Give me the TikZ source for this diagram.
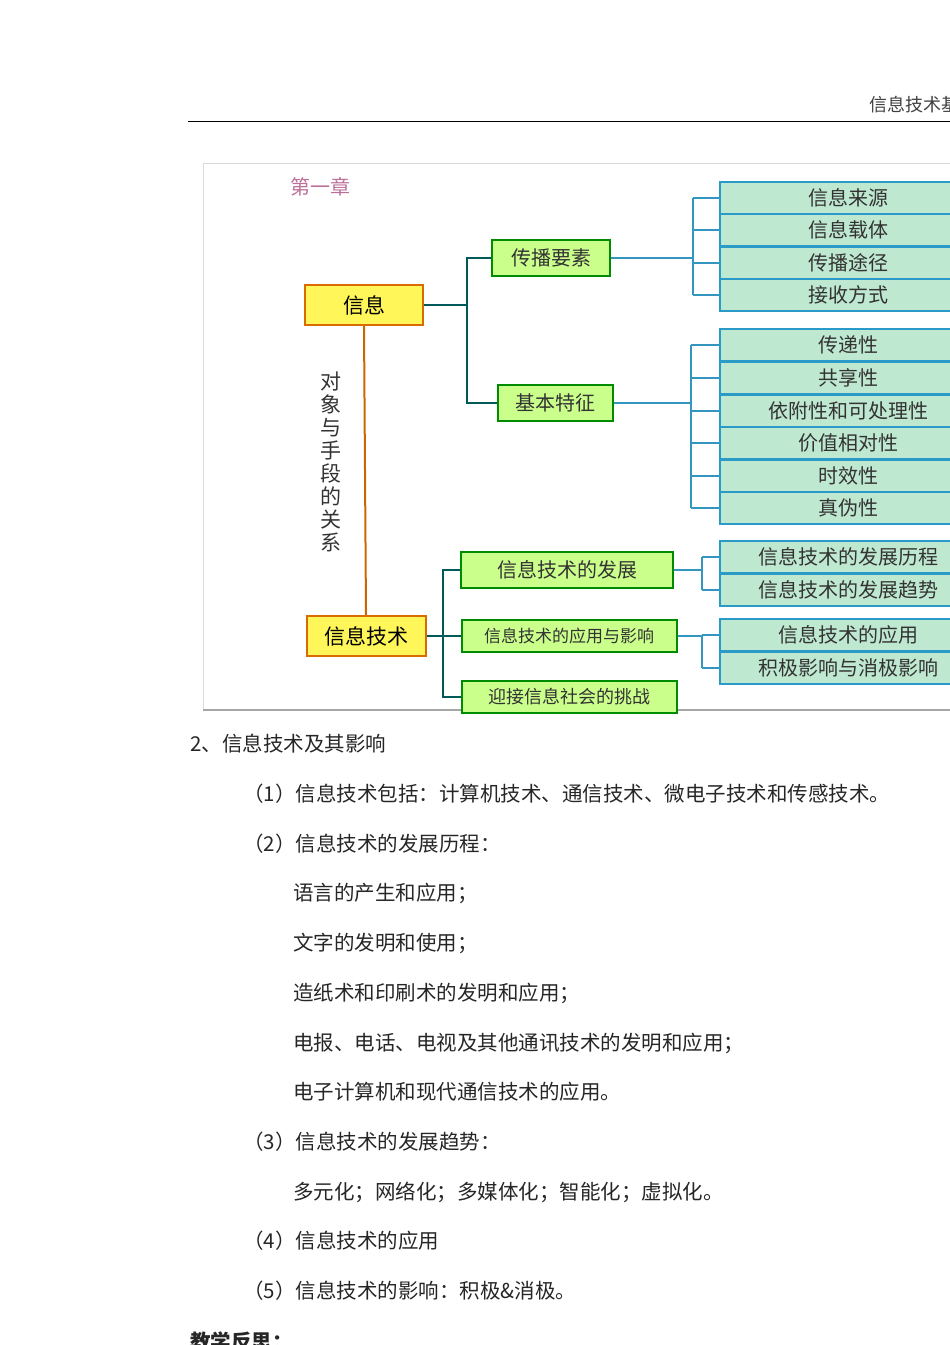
\documentclass[tikz,border=0pt]{standalone}
\usepackage{fontspec}
\setmainfont{Noto Sans CJK SC}
\newfontfamily\cjkb[BoldFont=* Bold]{Noto Sans CJK SC}
\begin{document}
\begin{tikzpicture}[x=1pt,y=-1pt,
  ybox/.style={draw=orange!85!black,line width=2pt,fill=yellow!65,minimum width=#1,minimum height=40,inner sep=0,font=\fontsize{21}{21}\selectfont},
  gbox/.style={draw=green!55!black,line width=2pt,fill=green!45!yellow!45,minimum height=36,inner sep=0,font=\fontsize{20}{20}\selectfont,text=black!80},
  cbox/.style={draw=cyan!80!black,line width=1.6pt,fill=cyan!25!green!25,minimum width=240,minimum height=32.5,inner sep=0},
  clab/.style={font=\fontsize{20}{20}\selectfont,text=black!80},
  cl/.style={draw=cyan!75!black,line width=2pt},
  gl/.style={draw=teal!70!black,line width=2pt},
  body/.style={anchor=west,font=\fontsize{20.5}{21}\selectfont,text=black!85,inner sep=0}]
\useasboundingbox (0,0) rectangle (950,1345);
\clip (0,0) rectangle (950,1345);
% header
\node[anchor=east,font=\fontsize{18}{18}\selectfont,text=black!75,inner sep=0] (hdr) at (960,105) {信息技术基};
\draw[line width=1pt] (188,121) -- (950,121);
% frame
\draw[black!15,line width=1pt] (203,163) -- (950,163);
\draw[black!15,line width=1pt] (203,163) -- (203,710);
\draw[black!35,line width=1.2pt] (203,710) -- (950,710);
\node[font=\fontsize{20}{20}\selectfont,text=magenta!60!black!70] (ch) at (320,187) {第一章};
% main nodes
\node[ybox=118] (xx) at (364,305) {信息};
\node[ybox=119] (it) at (366,636) {信息技术};
\draw[orange!80!black,line width=2pt] (xx.south) -- (it.north);
\node[font=\fontsize{21}{23}\selectfont,align=center,text=black!80] (rel) at (331,462) {对\\象\\与\\手\\段\\的\\关\\系};
% second level
\node[gbox,minimum width=118] (cb) at (551,258) {传播要素};
\node[gbox,minimum width=115] (jb) at (555,403) {基本特征};
\node[gbox,minimum width=212] (fz) at (567,570) {信息技术的发展};
\node[gbox,minimum width=215,minimum height=32,font=\fontsize{17}{17}\selectfont] (yy) at (569,636) {信息技术的应用与影响};
\node[gbox,minimum width=215,minimum height=32,font=\fontsize{18}{18}\selectfont] (yj) at (569,697) {迎接信息社会的挑战};
\coordinate (b1) at (467,305);
\draw[gl] (xx.east) -- (b1);
\draw[gl] (cb.west) -| (b1) |- (jb.west);
\coordinate (b2) at (443,636);
\draw[gl] (it.east) -- (b2);
\draw[gl] (fz.west) -| (b2) |- (yj.west);
\draw[gl] (b2) -- (yy.west);
% right boxes
\foreach \n/\y/\t in {r1/198/信息来源,r2/230/信息载体,r3/263/传播途径,r4/295/接收方式,
  s1/345/传递性,s2/378/共享性,s3/411/依附性和可处理性,s4/443/价值相对性,s5/476/时效性,s6/508/真伪性,
  t1/557/信息技术的发展历程,t2/590/信息技术的发展趋势,u1/635/信息技术的应用,u2/668/积极影响与消极影响}{
  \node[cbox] (\n) at (840,\y) {};
  \node[clab] at (848,\y) {\t};
}
\foreach \src/\bx/\lst in {cb/693/{r1,r2,r3,r4},jb/691/{s1,s2,s3,s4,s5,s6},fz/702/{t1,t2},yy/702/{u1,u2}}{
  \draw[cl] (\src.east) -- (\bx,0 |- \src.east);
  \foreach \r in \lst { \draw[cl] (\bx,0 |- \r.west) -- (\r.west); }
}
\draw[cl] (693,198) -- (693,295);
\draw[cl] (691,345) -- (691,508);
\draw[cl] (702,557) -- (702,590);
\draw[cl] (702,635) -- (702,668);
% body text
\node[body] (l0) at (190,744) {2、信息技术及其影响};
\node[body] (l1) at (243,794) {（1）信息技术包括：计算机技术、通信技术、微电子技术和传感技术。};
\node[body] (l2) at (243,844) {（2）信息技术的发展历程：};
\node[body] (l3) at (293,893) {语言的产生和应用；};
\node[body] (l4) at (293,943) {文字的发明和使用；};
\node[body] (l5) at (293,993) {造纸术和印刷术的发明和应用；};
\node[body] (l6) at (293,1043) {电报、电话、电视及其他通讯技术的发明和应用；};
\node[body] (l7) at (293,1092) {电子计算机和现代通信技术的应用。};
\node[body] (l8) at (243,1142) {（3）信息技术的发展趋势：};
\node[body] (l9) at (293,1192) {多元化；网络化；多媒体化；智能化；虚拟化。};
\node[body] (l10) at (243,1241) {（4）信息技术的应用};
\node[body] (l11) at (243,1291) {（5）信息技术的影响：积极\&消极。};
\node[body,font=\fontsize{20.5}{21}\selectfont\bfseries] (l12) at (190,1342) {教学反思：};
\end{tikzpicture}
\end{document}
